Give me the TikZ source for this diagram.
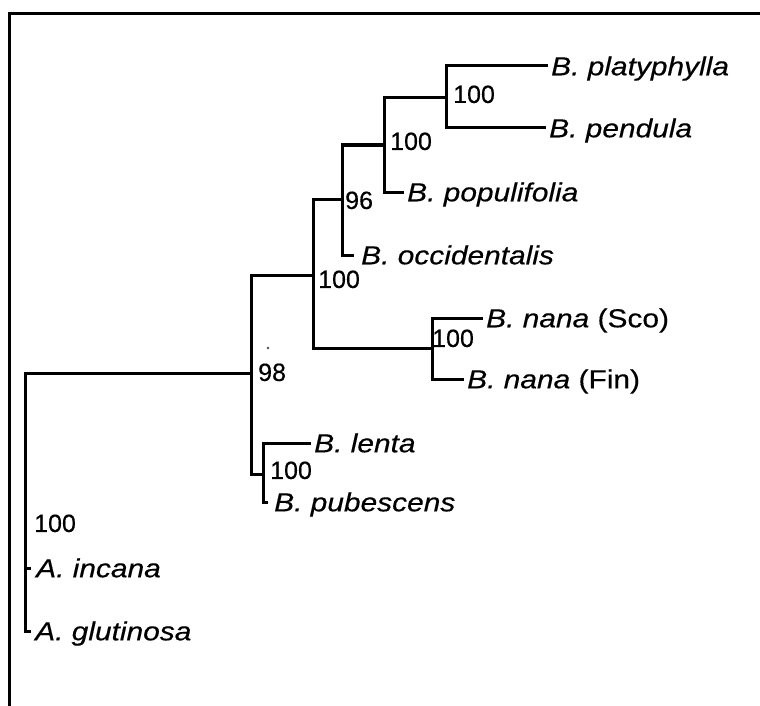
\documentclass[tikz,border=0pt]{standalone}
\usepackage{fontspec}
\setmainfont{Liberation Sans}[FakeBold=0.4]
\newfontfamily\namefont[FakeStretch=1.15,FakeBold=0.4]{Liberation Sans}
\begin{document}
\begin{tikzpicture}[x=1pt,y=-1pt,
  brline/.style={draw=black, line width=3pt, line join=miter},
  frameline/.style={draw=black, line width=3pt, line join=miter},
  leaf/.style={anchor=west, inner xsep=3pt, inner ysep=0pt, text height=18.6pt, text depth=0pt,
    font=\namefont\fontsize{26}{30}\selectfont\itshape},
  bs/.style={anchor=west, inner sep=0pt, text height=17.9pt, text depth=0pt,
    font=\fontsize{25}{30}\selectfont}]
\useasboundingbox (0,0) rectangle (760,706);
\fill[white] (0,0) rectangle (760,706);
\draw[frameline] (760,13.5) -- (9,13.5) -- (9,706);

% internal nodes
\coordinate (R) at (25,373);
\coordinate (n98) at (251,373);
\coordinate (n100a) at (313,275);
\coordinate (n96) at (342,199);
\coordinate (n100b) at (384,145);
\coordinate (n100c) at (446,98);
\coordinate (nNa) at (432,348);
\coordinate (nLP) at (263,474);

% leaves
\node[leaf] (platy) at (548,66) {B. platyphylla};
\node[leaf] (pend) at (546,128) {B. pendula};
\node[leaf] (popu) at (404,192) {B. populifolia};
\node[leaf, inner xsep=7pt] (occ) at (354,255) {B. occidentalis};
\node[leaf] (sco) at (483,318) {B. nana {\upshape(Sco)}};
\node[leaf] (fin) at (464,379) {B. nana {\upshape(Fin)}};
\node[leaf] (lenta) at (311,443) {B. lenta};
\node[leaf, inner xsep=6pt] (pub) at (268,502) {B. pubescens};
\node[leaf, inner xsep=5pt] (inc) at (31,568) {A. incana};
\node[leaf, inner xsep=4pt] (glu) at (31,631) {A. glutinosa};

% branches
\draw[brline] (n98) -- (R) |- (glu.west);
\draw[brline] (R) |- (inc.west);
\draw[brline] (n98) |- (n100a);
\draw[brline] (n98) |- (nLP);
\draw[brline] (n100a) |- (n96);
\draw[brline] (n100a) |- (nNa);
\draw[brline] (n96) |- (n100b);
\draw[brline] (n96) |- (occ.west);
\draw[brline] (n100b) |- (n100c);
\draw[brline] (n100b) |- (popu.west);
\draw[brline] (n100c) |- (platy.west);
\draw[brline] (n100c) |- (pend.west);
\draw[brline] (nNa) |- (sco.west);
\draw[brline] (nNa) |- (fin.west);
\draw[brline] (nLP) |- (lenta.west);
\draw[brline] (nLP) |- (pub.west);

% support values
\node[bs] (s100c) at (453,94) {100};
\node[bs] (s100b) at (390,141) {100};
\node[bs] (s96) at (345,200) {96};
\node[bs] (s100a) at (318,279) {100};
\node[bs] (s98) at (258,372) {98};
\node[bs] (sNa) at (432,338) {100};
\node[bs] (sLP) at (270,470) {100};
\node[bs] (sR) at (34,523) {100};

\fill[black!70] (268,348) circle (1.3pt);
\end{tikzpicture}
\end{document}
